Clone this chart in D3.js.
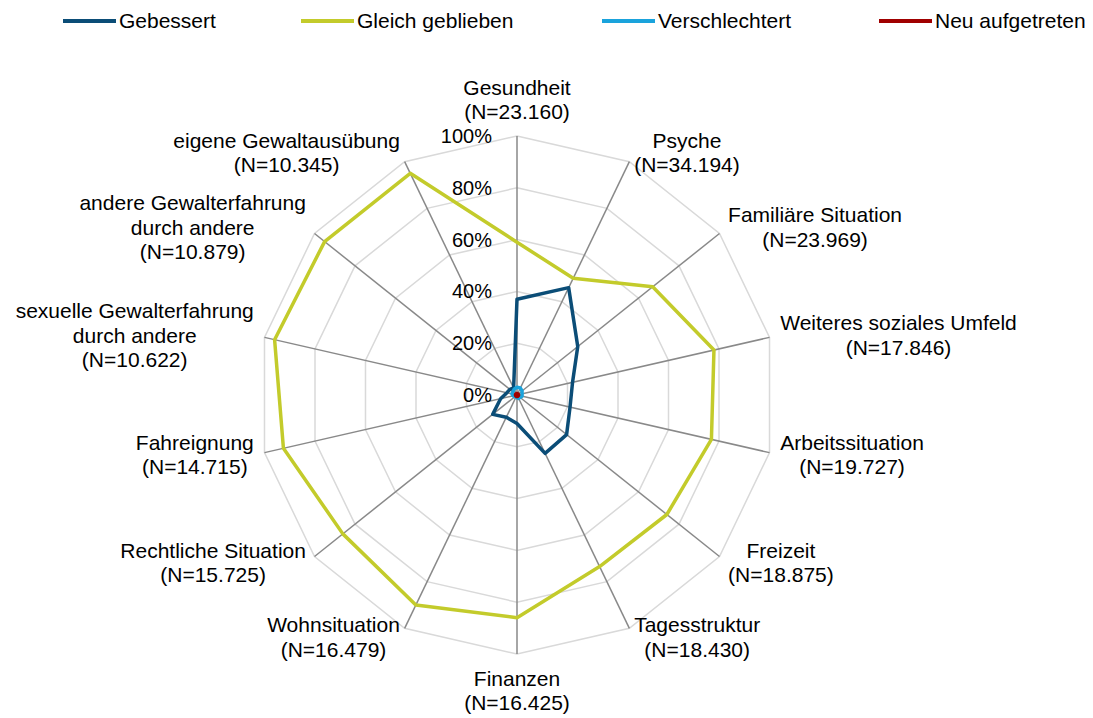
<!DOCTYPE html>
<html>
<head>
<meta charset="utf-8">
<script src="https://cdn.jsdelivr.net/npm/d3@7/dist/d3.min.js"></script>
<style>
	body{margin:0;background:#fff;}
	svg text{font-family:"Liberation Sans", Arial, sans-serif;fill:#000;}
</style>
</head>
<body>
<div id="chart"></div>
<script>
var categories = [
	['Gesundheit', '(N=23.160)'],
	['Psyche', '(N=34.194)'],
	['Familiäre Situation', '(N=23.969)'],
	['Weiteres soziales Umfeld', '(N=17.846)'],
	['Arbeitssituation', '(N=19.727)'],
	['Freizeit', '(N=18.875)'],
	['Tagesstruktur', '(N=18.430)'],
	['Finanzen', '(N=16.425)'],
	['Wohnsituation', '(N=16.479)'],
	['Rechtliche Situation', '(N=15.725)'],
	['Fahreignung', '(N=14.715)'],
	['sexuelle Gewalterfahrung', 'durch andere', '(N=10.622)'],
	['andere Gewalterfahrung', 'durch andere', '(N=10.879)'],
	['eigene Gewaltausübung', '(N=10.345)']
];

var gebessert = [37, 46, 30, 22, 21, 24.5, 25, 11, 9.5, 12, 6.5, 4, 3.5, 3];
var gleich = [59, 50, 67, 78, 77, 74, 73.5, 86, 90, 86, 92.5, 96, 95, 95];
var verschlechtert = [3, 3, 2.5, 2, 2, 1.5, 1.5, 1, 1, 1, 1.5, 2, 2, 2.5];
var neu = [0.6, 0.6, 0.6, 0.6, 0.6, 0.6, 0.6, 0.6, 0.6, 0.6, 0.6, 0.6, 0.6, 0.6];

var seriesNames = ['Gebessert', 'Gleich geblieben', 'Verschlechtert', 'Neu aufgetreten'];
var seriesColors = ['#0b4d77', '#c3cb2b', '#1aa3dc', '#a00000'];
var tickValues = [0, 20, 40, 60, 80, 100];

var W = 1093, H = 718, cx = 517, cy = 395;
var n = categories.length;

var svg = d3.select('#chart').append('svg')
	.attr('width', W)
	.attr('height', H);

var r = d3.scaleLinear().domain([0, 100]).range([0, 259]);
var angle = d3.scaleLinear().domain([0, n]).range([0, 2 * Math.PI]);

var g = svg.append('g').attr('transform', 'translate(' + cx + ',' + cy + ')');

function pt(i, v){
	var a = angle(i);
	return [Math.sin(a) * r(v), -Math.cos(a) * r(v)];
}

//rings
g.selectAll('.ring')
	.data(tickValues.slice(1))
	.enter().append('polygon')
	.attr('class', 'ring')
	.attr('points', function(t){
		return d3.range(n).map(function(i){ return pt(i, t).join(','); }).join(' ');
	})
	.attr('fill', 'none')
	.attr('stroke', '#d9d9d9')
	.attr('stroke-width', 1.5);

//spokes
g.selectAll('.spoke')
	.data(d3.range(n))
	.enter().append('line')
	.attr('class', 'spoke')
	.attr('x1', 0).attr('y1', 0)
	.attr('x2', function(i){ return pt(i, 100)[0]; })
	.attr('y2', function(i){ return pt(i, 100)[1]; })
	.attr('stroke', '#898989')
	.attr('stroke-width', 1.5);

//tick labels
g.selectAll('.tick')
	.data(tickValues)
	.enter().append('text')
	.attr('class', 'tick')
	.attr('x', -25)
	.attr('y', function(t){ return -r(t); })
	.attr('dy', '0.35em')
	.attr('text-anchor', 'end')
	.attr('font-size', 20)
	.text(function(t){ return t + '%'; });

//series
var allSeries = [gebessert, gleich, verschlechtert, neu];
var line = d3.lineRadial()
	.angle(function(d, i){ return angle(i); })
	.radius(function(d){ return r(d); })
	.curve(d3.curveLinearClosed);

g.selectAll('.series')
	.data(allSeries)
	.enter().append('path')
	.attr('class', 'series')
	.attr('d', line)
	.attr('fill', 'none')
	.attr('stroke', function(d, i){ return seriesColors[i]; })
	.attr('stroke-width', 3.5)
	.attr('stroke-linejoin', 'round');

//axis labels
var lh = 24.5;
categories.forEach(function(lines, i){
	var a = angle(i), dx = Math.sin(a), dy = -Math.cos(a);
	var p = pt(i, 100);
	var h = lines.length * lh;
	var lbl = g.append('text').attr('font-size', 21).attr('text-anchor', 'middle');
	lines.forEach(function(s, k){
		lbl.append('tspan').attr('x', 0).attr('y', (k - (lines.length - 1) / 2) * lh).attr('dy', '0.35em').text(s);
	});
	var w = lbl.node().getBBox().width;
	var x, y;
	if (Math.abs(dx) < 0.1){
		x = p[0];
		y = p[1] + (dy < 0 ? -(12 + h / 2) : (12 + h / 2));
	}
	else{
		x = p[0] + (dx > 0 ? 1 : -1) * (11 * Math.abs(dx) + w / 2);
		y = p[1] + dy * 10;
	}
	lbl.attr('transform', 'translate(' + x + ',' + y + ')');
});

//legend
var legendX = [63, 301, 602, 879];
var legend = svg.selectAll('.legend')
	.data(seriesNames)
	.enter().append('g')
	.attr('class', 'legend')
	.attr('transform', function(d, i){ return 'translate(' + legendX[i] + ',21)'; });

legend.append('line')
	.attr('x1', 0).attr('x2', 53)
	.attr('stroke', function(d, i){ return seriesColors[i]; })
	.attr('stroke-width', 4);

legend.append('text')
	.attr('x', 56)
	.attr('dy', '0.35em')
	.attr('font-size', 21)
	.text(function(d){ return d; });
</script>
</body>
</html>
